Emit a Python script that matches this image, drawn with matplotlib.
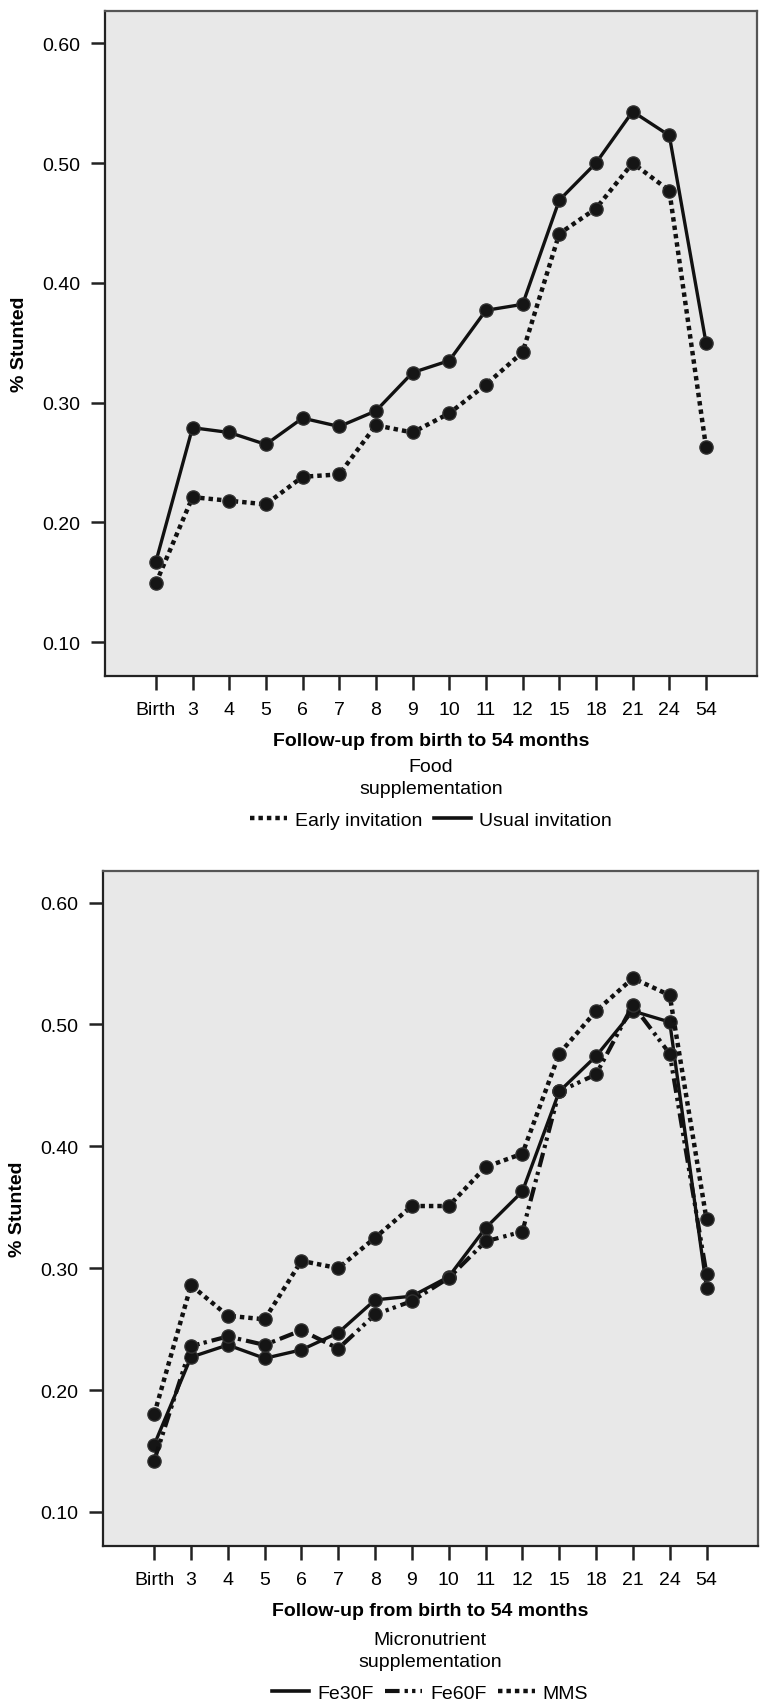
import matplotlib
matplotlib.use("Agg")
import matplotlib.pyplot as plt

plt.rcParams['font.family'] = ['Liberation Sans', 'DejaVu Sans']

# follow-up visits (categorical x axis)
visits = ["Birth", "3", "4", "5", "6", "7", "8", "9", "10", "11", "12",
          "15", "18", "21", "24", "54"]

# panel 1: food supplementation
early_invitation = [0.149, 0.221, 0.218, 0.215, 0.238, 0.240, 0.281, 0.275,
                    0.291, 0.315, 0.342, 0.441, 0.462, 0.500, 0.477, 0.263]
usual_invitation = [0.167, 0.279, 0.275, 0.265, 0.287, 0.280, 0.293, 0.325,
                    0.335, 0.377, 0.382, 0.469, 0.500, 0.543, 0.523, 0.350]

# panel 2: micronutrient supplementation
fe30f = [0.155, 0.227, 0.237, 0.226, 0.233, 0.247, 0.274, 0.277,
         0.293, 0.333, 0.363, 0.445, 0.474, 0.511, 0.502, 0.284]
fe60f = [0.142, 0.236, 0.244, 0.237, 0.249, 0.234, 0.262, 0.273,
         0.292, 0.322, 0.330, 0.445, 0.459, 0.516, 0.476, 0.295]
mms = [0.180, 0.286, 0.261, 0.258, 0.306, 0.300, 0.325, 0.351,
       0.351, 0.383, 0.394, 0.476, 0.511, 0.538, 0.524, 0.340]

yticks = [0.10, 0.20, 0.30, 0.40, 0.50, 0.60]

SOLID = '-'
DOTTED = (0, (1.0, 0.9))
DASHDOTDOT = (0, (3.5, 1.2, 0.8, 1.0, 0.8, 1.2))

fig = plt.figure(figsize=(7.6, 17.06), dpi=100)
ax1 = fig.add_axes([0.138, 0.6032, 0.858, 0.3898])
ax2 = fig.add_axes([0.1355, 0.0932, 0.8615, 0.3957])


def style_axes(ax, ylim):
    ax.set_facecolor('#e8e8e8')
    x = range(len(visits))
    ax.set_xticks(list(x))
    ax.set_xticklabels(visits)
    ax.set_xlim(-1.39, 16.39)
    ax.set_ylim(*ylim)
    ax.set_yticks(yticks)
    ax.set_yticklabels([f"{v:.2f}" for v in yticks])
    ax.tick_params(direction='out', length=10, width=1.8, labelsize=14,
                   color='#222222', pad=8)
    for side, sp in ax.spines.items():
        sp.set_linewidth(1.6)
        sp.set_color('#222222' if side in ('left', 'bottom') else '#555555')
    ax.set_ylabel("% Stunted", fontsize=14, fontweight='bold', labelpad=10)
    ax.set_xlabel("Follow-up from birth to 54 months", fontsize=14,
                  fontweight='bold', labelpad=10)


def draw(ax, values, ls, label, lw=2.4):
    ax.plot(range(len(visits)), values, linestyle=ls, color='#111111',
            linewidth=lw, marker='o', markersize=9.5,
            markerfacecolor='#151515', markeredgecolor='#303030',
            markeredgewidth=1.0, label=label)


style_axes(ax1, (0.0717, 0.627))
draw(ax1, early_invitation, DOTTED, "Early invitation", lw=3.2)
draw(ax1, usual_invitation, SOLID, "Usual invitation")

style_axes(ax2, (0.072, 0.626))
draw(ax2, fe30f, SOLID, "Fe30F")
draw(ax2, fe60f, DASHDOTDOT, "Fe60F", lw=3.0)
draw(ax2, mms, DOTTED, "MMS", lw=3.2)


def add_legend(ax, title, entries, anchor_y):
    lines = [plt.Line2D([], [], linestyle=ls, linewidth=lw, color='#111111')
             for ls, lw, _ in entries]
    labels = [lab for _, _, lab in entries]
    leg = ax.legend(lines, labels, title=title, loc='upper center',
                    bbox_to_anchor=(0.5, anchor_y), ncol=len(labels),
                    frameon=False, fontsize=14, title_fontsize=14,
                    handlelength=1.9, handletextpad=0.4, columnspacing=0.6,
                    borderpad=0.1, labelspacing=0.75)
    leg.get_title().set_multialignment('center')
    leg.get_title().set_linespacing(1.35)


add_legend(ax1, "Food\nsupplementation",
           [(DOTTED, 3.2, "Early invitation"), (SOLID, 2.6, "Usual invitation")],
           -0.106)
add_legend(ax2, "Micronutrient\nsupplementation",
           [(SOLID, 2.6, "Fe30F"), (DASHDOTDOT, 3.0, "Fe60F"),
            (DOTTED, 3.2, "MMS")],
           -0.109)

fig.savefig("out.png", dpi=100)
